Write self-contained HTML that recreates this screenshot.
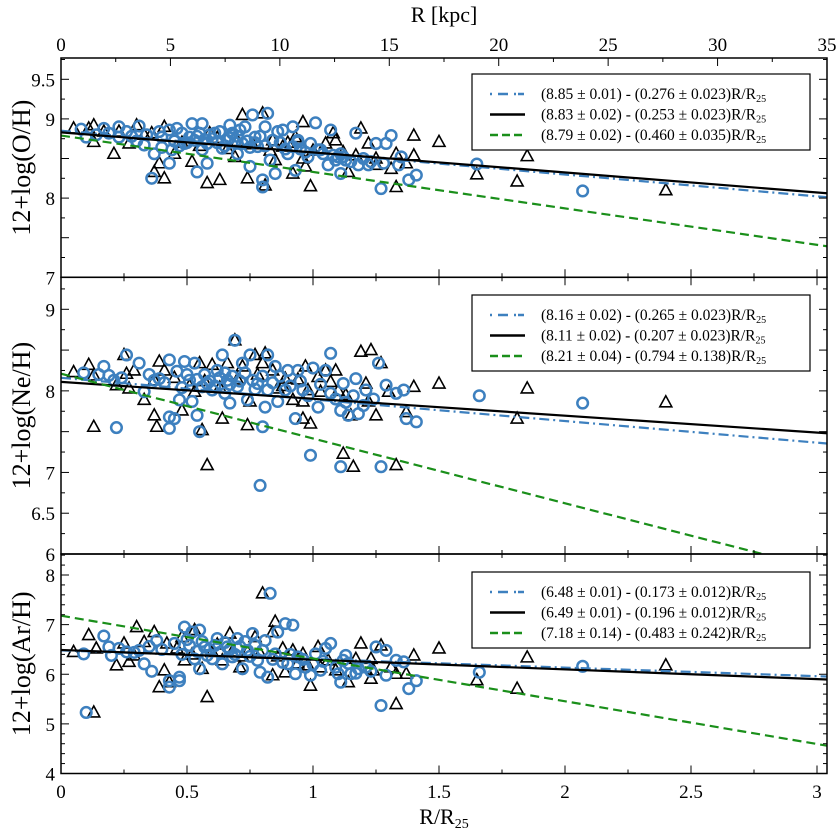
<!DOCTYPE html>
<html><head><meta charset="utf-8">
<style>
html,body{margin:0;padding:0;background:#fff;}
svg{display:block;font-family:"Liberation Serif","DejaVu Serif",serif;}
</style></head>
<body>
<svg id="chart" width="836" height="831" viewBox="0 0 836 831" xmlns="http://www.w3.org/2000/svg"></svg>
<script>
// ---------- data ----------
const xTicks = [0,0.5,1,1.5,2,2.5,3];
const xTickLabels = ["0","0.5","1","1.5","2","2.5","3"];
const kpcTicks = [0,5,10,15,20,25,30,35];
const kpcTickLabels = ["0","5","10","15","20","25","30","35"];

const ohCircles = [[.08,8.87],[.10,8.77],[.17,8.88],[.19,8.82],[.23,8.90],[.23,8.77],[.26,8.84],[.31,8.91],[.33,8.67],[.36,8.25],[.37,8.56],[.39,8.84],[.40,8.77],[.43,8.86],[.43,8.44],[.44,8.61],[.46,8.88],[.48,8.82],[.49,8.69],[.51,8.77],[.52,8.94],[.53,8.73],[.54,8.33],[.55,8.82],[.56,8.94],[.56,8.61],[.58,8.69],[.58,8.44],[.60,8.75],[.61,8.82],[.63,8.84],[.64,8.63],[.66,8.73],[.67,8.92],[.68,8.82],[.70,8.56],[.71,8.86],[.72,8.69],[.73,8.90],[.75,8.40],[.76,9.05],[.77,8.77],[.78,8.65],[.80,8.23],[.80,8.14],[.81,8.90],[.82,9.07],[.83,8.48],[.84,8.73],[.85,8.31],[.86,8.84],[.88,8.86],[.90,8.56],[.92,8.90],[.92,8.65],[.93,8.35],[.94,8.71],[.94,8.73],[.98,8.52],[.99,8.69],[1.01,8.95],[1.02,8.61],[1.03,8.61],[1.06,8.42],[1.07,8.86],[1.08,8.54],[1.10,8.52],[1.11,8.31],[1.11,8.56],[1.13,8.48],[1.17,8.82],[1.18,8.42],[1.22,8.42],[1.25,8.69],[1.27,8.12],[1.29,8.69],[1.31,8.79],[1.34,8.42],[1.35,8.52],[1.38,8.23],[1.41,8.29],[1.65,8.43],[2.07,8.09],
[.14,8.80],[.28,8.78],[.34,8.80],[.45,8.72],[.47,8.66],[.50,8.70],[.54,8.78],[.57,8.74],[.59,8.80],[.62,8.70],[.65,8.66],[.67,8.76],[.69,8.70],[.70,8.78],[.74,8.72],[.75,8.64],[.77,8.70],[.79,8.78],[.81,8.66],[.87,8.70],[.89,8.62],[.95,8.62],[.97,8.58],[1.04,8.56],[1.09,8.48],[1.12,8.52],[1.15,8.46],[1.20,8.50],[1.23,8.46],[1.28,8.44],[.30,8.72],[.40,8.64]];
const ohTriangles = [[.05,8.88],[.11,8.88],[.13,8.71],[.13,8.92],[.21,8.56],[.23,8.84],[.27,8.69],[.30,8.92],[.36,8.82],[.37,8.33],[.39,8.44],[.41,8.25],[.41,8.90],[.45,8.56],[.52,8.46],[.58,8.19],[.59,8.82],[.63,8.23],[.69,8.52],[.72,9.05],[.74,8.25],[.80,9.07],[.81,8.16],[.84,8.73],[.85,8.48],[.88,8.65],[.92,8.31],[.93,8.77],[.96,8.50],[.96,8.96],[.97,8.40],[.99,8.15],[1.05,8.69],[1.08,8.82],[1.09,8.73],[1.14,8.33],[1.17,8.54],[1.19,8.88],[1.22,8.69],[1.25,8.50],[1.25,8.42],[1.31,8.37],[1.33,8.56],[1.33,8.14],[1.37,8.44],[1.40,8.54],[1.40,8.79],[1.50,8.71],[1.65,8.30],[1.81,8.21],[1.85,8.53],[2.40,8.10],
[.17,8.84],[.33,8.80],[.48,8.70],[.55,8.66],[.62,8.76],[.66,8.62],[.70,8.72],[.76,8.68],[.83,8.60],[.90,8.70],[1.00,8.60],[1.12,8.58]];

const neCircles = [[.09,8.22],[.17,8.30],[.19,8.19],[.21,8.13],[.22,7.55],[.26,8.44],[.31,8.34],[.33,7.99],[.37,8.13],[.39,8.15],[.43,8.38],[.43,7.54],[.43,7.68],[.45,7.66],[.47,7.89],[.49,8.36],[.51,8.13],[.52,7.87],[.53,8.34],[.54,7.70],[.55,7.50],[.56,8.05],[.58,8.09],[.60,8.01],[.62,8.25],[.64,8.44],[.65,7.97],[.66,8.13],[.67,7.85],[.69,8.62],[.70,8.05],[.72,8.34],[.74,7.89],[.75,8.44],[.76,8.13],[.78,8.09],[.79,6.84],[.80,7.56],[.81,7.80],[.82,8.44],[.82,8.01],[.85,8.30],[.86,7.87],[.89,8.01],[.90,8.25],[.93,7.66],[.94,8.25],[.96,8.01],[.99,7.21],[1.00,8.28],[1.02,7.80],[1.05,8.25],[1.07,8.46],[1.07,7.97],[1.11,7.07],[1.11,7.76],[1.12,8.09],[1.14,7.70],[1.17,8.15],[1.18,7.72],[1.21,8.01],[1.26,8.34],[1.27,7.07],[1.29,8.07],[1.33,7.97],[1.36,8.01],[1.37,7.66],[1.41,7.62],[1.66,7.94],[2.07,7.85],
[.15,8.20],[.24,8.16],[.35,8.20],[.41,8.10],[.46,8.24],[.48,8.04],[.50,8.20],[.54,8.14],[.57,8.20],[.59,8.12],[.61,8.06],[.63,8.16],[.65,8.22],[.67,8.08],[.68,8.18],[.71,8.12],[.73,8.22],[.77,8.02],[.80,8.18],[.84,8.10],[.87,8.18],[.91,8.06],[.95,8.12],[.98,7.94],[1.03,8.08],[1.09,7.90],[1.13,7.86],[1.16,7.94],[1.20,7.82],[1.24,7.90]];
const neTriangles = [[.05,8.23],[.11,8.32],[.13,8.19],[.13,7.56],[.22,8.07],[.25,8.44],[.26,8.21],[.27,8.03],[.29,8.25],[.33,7.89],[.37,8.13],[.37,7.70],[.38,7.56],[.39,8.36],[.41,8.25],[.48,7.76],[.53,7.99],[.55,8.34],[.56,7.52],[.58,7.09],[.60,8.32],[.64,7.66],[.66,8.34],[.69,8.62],[.72,8.30],[.74,7.58],[.75,7.87],[.77,8.44],[.80,8.34],[.81,8.46],[.84,8.25],[.86,8.03],[.89,8.15],[.92,7.89],[.96,7.87],[.96,7.66],[.97,8.30],[.98,8.01],[.99,7.60],[1.02,8.17],[1.03,7.99],[1.05,8.25],[1.07,8.11],[1.09,8.25],[1.12,7.23],[1.13,7.95],[1.15,7.70],[1.16,7.07],[1.19,8.48],[1.21,8.09],[1.23,8.50],[1.22,7.87],[1.25,7.70],[1.27,8.34],[1.30,7.99],[1.33,7.09],[1.37,7.74],[1.40,8.05],[1.50,8.09],[1.81,7.66],[1.85,8.03],[2.40,7.86],
[.45,8.16],[.51,8.06],[.57,8.12],[.63,8.04],[.70,8.14],[.78,8.20],[.88,8.06],[.94,8.14],[1.10,8.00]];

const arCircles = [[.09,6.41],[.10,5.23],[.17,6.77],[.19,6.55],[.20,6.38],[.23,6.52],[.26,6.45],[.31,6.48],[.33,6.21],[.36,6.06],[.38,6.68],[.43,5.74],[.43,5.87],[.47,5.87],[.47,5.94],[.49,6.95],[.51,6.58],[.52,6.85],[.53,6.31],[.55,6.89],[.55,6.11],[.57,6.55],[.60,6.31],[.62,6.72],[.64,6.21],[.66,6.55],[.68,6.35],[.70,6.72],[.72,6.11],[.74,6.48],[.76,6.82],[.78,6.28],[.79,6.04],[.81,6.68],[.82,5.94],[.83,7.63],[.85,6.41],[.86,6.85],[.89,7.02],[.90,6.21],[.92,6.99],[.93,6.01],[.94,6.35],[.97,6.14],[.99,5.98],[1.01,6.41],[1.03,6.08],[1.05,6.52],[1.07,6.62],[1.10,6.01],[1.11,5.84],[1.12,6.28],[1.13,6.38],[1.15,6.01],[1.18,6.11],[1.21,6.14],[1.25,6.55],[1.27,5.37],[1.29,5.98],[1.29,6.48],[1.33,6.28],[1.36,6.25],[1.38,5.71],[1.41,5.87],[1.66,6.04],[2.07,6.16],
[.29,6.44],[.40,6.50],[.45,6.62],[.48,6.40],[.50,6.70],[.54,6.46],[.56,6.66],[.58,6.38],[.61,6.58],[.63,6.44],[.65,6.64],[.67,6.50],[.69,6.40],[.71,6.56],[.73,6.66],[.75,6.36],[.77,6.58],[.80,6.48],[.84,6.30],[.88,6.24],[.91,6.40],[.96,6.30],[1.00,6.20],[1.04,6.26],[1.09,6.14],[1.14,6.22],[1.17,6.02],[1.23,6.06],[.35,6.56],[.59,6.50]];
const arTriangles = [[.05,6.45],[.11,6.79],[.13,5.23],[.14,6.52],[.22,6.18],[.25,6.62],[.27,6.25],[.29,6.38],[.30,6.95],[.33,6.65],[.37,6.85],[.39,5.74],[.41,6.08],[.42,6.62],[.43,5.84],[.48,6.75],[.49,6.28],[.53,6.89],[.56,6.11],[.58,5.54],[.60,6.45],[.64,6.28],[.67,6.82],[.71,6.14],[.74,6.45],[.77,6.75],[.80,7.63],[.84,5.98],[.84,6.85],[.85,7.06],[.88,6.52],[.89,6.04],[.92,6.48],[.96,6.41],[.98,6.18],[.99,5.77],[1.02,6.55],[1.03,6.14],[1.06,6.28],[1.09,6.08],[1.14,5.84],[1.17,6.31],[1.19,6.62],[1.23,6.31],[1.23,5.91],[1.24,6.08],[1.27,6.58],[1.31,6.14],[1.33,6.01],[1.33,5.40],[1.37,6.01],[1.40,6.38],[1.50,6.52],[1.65,5.88],[1.81,5.71],[1.85,6.34],[2.40,6.18],
[.46,6.52],[.52,6.40],[.62,6.60],[.68,6.46],[.72,6.36],[.79,6.42],[.86,6.36],[.94,6.22]];

// fits as drawn: [intercept, slope]
const ohFits = [[8.85,0.276],[8.83,0.253],[8.79,0.460]];
const neFits = [[8.16,0.265],[8.11,0.207],[8.21,0.794]];
const arFits = [[6.48,0.173],[6.49,0.196],[7.18,0.862]];
const ohLegend = ["(8.85 ± 0.01) - (0.276 ± 0.023)R/R","(8.83 ± 0.02) - (0.253 ± 0.023)R/R","(8.79 ± 0.02) - (0.460 ± 0.035)R/R"];
const neLegend = ["(8.16 ± 0.02) - (0.265 ± 0.023)R/R","(8.11 ± 0.02) - (0.207 ± 0.023)R/R","(8.21 ± 0.04) - (0.794 ± 0.138)R/R"];
const arLegend = ["(6.48 ± 0.01) - (0.173 ± 0.012)R/R","(6.49 ± 0.01) - (0.196 ± 0.012)R/R","(7.18 ± 0.14) - (0.483 ± 0.242)R/R"];
const ohYTicks = [9.5,9,8,7];
const neYTicks = [9,8,7,6.5,6];
const arYTicks = [8,7,6,5,4];

// ---------- geometry ----------
const svg = document.getElementById('chart');
const NS = 'http://www.w3.org/2000/svg';
const X0 = 61, X1 = 827, XMAX = (827-61)/252;
const KPC_MAX = 35;
function xs(r){ return X0 + r*252; }
function xk(k){ return X0 + k/KPC_MAX*(X1-X0); }
const BLUE = '#3d80bf', GREEN = '#1a8f1a';
function mk(tag, attrs, parent){
  const e = document.createElementNS(NS, tag);
  for (const k in attrs) e.setAttribute(k, attrs[k]);
  (parent||svg).appendChild(e);
  return e;
}

const panels = [
  {name:'oh', top:58, bot:277.3, vTop:9.5, yTop:79.3, vBot:7, circles:ohCircles, tris:ohTriangles, fits:ohFits, legend:ohLegend, ticks:ohYTicks, minor:0.25, label:'12+log(O/H)', legY:74},
  {name:'ne', top:277.3, bot:554, vTop:9, yTop:309.3, vBot:6, circles:neCircles, tris:neTriangles, fits:neFits, legend:neLegend, ticks:neYTicks, minor:0.25, label:'12+log(Ne/H)', legY:295},
  {name:'ar', top:554, bot:773.5, vTop:8, yTop:575, vBot:4, circles:arCircles, tris:arTriangles, fits:arFits, legend:arLegend, ticks:arYTicks, minor:0.2, label:'12+log(Ar/H)', legY:572}
];

panels.forEach(p => {
  const scale = (p.bot - p.yTop)/(p.vTop - p.vBot);
  const ys = v => p.yTop + (p.vTop - v)*scale;
  const vMaxVis = p.vTop + (p.yTop - p.top)/scale;
  const g = mk('g', {});
  
  
  const clipId = 'clip-' + p.name;
  const cp = mk('clipPath', {id: clipId}, g);
  mk('rect', {x:X0, y:p.top, width:X1-X0, height:p.bot-p.top}, cp);
  const plot = mk('g', {'clip-path':'url(#'+clipId+')'}, g);

  p.tris.forEach(d => {
    const cx = xs(d[0]), cy = ys(d[1]);
    const t = mk('polygon', {points:`${cx},${cy-6.5} ${cx-6},${cy+4.5} ${cx+6},${cy+4.5}`, fill:'none', stroke:'#000', 'stroke-width':1.6}, plot);
    
    
  });
  p.circles.forEach(d => {
    const c = mk('circle', {cx:xs(d[0]), cy:ys(d[1]), r:5.3, fill:'none', stroke:BLUE, 'stroke-width':2.5}, plot);
    
    
  });
  const styles = [
    {stroke:BLUE, dash:'10,4,2,4', w:2.2, n:'blue-fit-line'},
    {stroke:'#000', dash:'', w:2.2, n:'black-fit-line'},
    {stroke:GREEN, dash:'9,5', w:2.2, n:'green-fit-line'}
  ];
  p.fits.forEach((f,i) => {
    const s = styles[i];
    const l = mk('line', {x1:xs(0), y1:ys(f[0]), x2:xs(XMAX), y2:ys(f[0]-f[1]*XMAX), stroke:s.stroke, 'stroke-width':s.w}, plot);
    if (s.dash) l.setAttribute('stroke-dasharray', s.dash);
    
    
  });

  const fr = mk('rect', {x:X0, y:p.top, width:X1-X0, height:p.bot-p.top, fill:'none', stroke:'#000', 'stroke-width':1.5}, g);
  
  

  const vStart = Math.ceil(p.vBot/p.minor - 1e-6)*p.minor;
  for (let v = vStart; v <= vMaxVis + 1e-6; v += p.minor) {
    const vv = Math.round(v*100)/100;
    const major = p.minor===0.2 ? Math.abs(vv-Math.round(vv))<1e-6 : Math.abs(vv*2-Math.round(vv*2))<1e-6;
    const len = major ? 8 : 4;
    const y = ys(vv);
    mk('line', {x1:X0, y1:y, x2:X0+len, y2:y, stroke:'#000', 'stroke-width':1}, g);
    mk('line', {x1:X1, y1:y, x2:X1-len, y2:y, stroke:'#000', 'stroke-width':1}, g);
  }
  p.ticks.forEach(v => {
    const t = mk('text', {x:X0-6, y:ys(v)+7, 'text-anchor':'end', 'font-size':19}, g);
    t.textContent = String(v);
    
    
  });
  for (let r = 0; r <= XMAX + 1e-6; r += 0.25) {
    const major = Math.abs(r*2 - Math.round(r*2)) < 1e-6;
    const len = major ? 8 : 4;
    const x = xs(r);
    mk('line', {x1:x, y1:p.bot, x2:x, y2:p.bot-len, stroke:'#000', 'stroke-width':1}, g);
    if (p.name !== 'oh') mk('line', {x1:x, y1:p.top, x2:x, y2:p.top+len, stroke:'#000', 'stroke-width':1}, g);
  }
  const yt = mk('text', {x:0, y:0, 'text-anchor':'middle', 'font-size':26, transform:`translate(30,${(p.top+p.bot)/2}) rotate(-90)`}, g);
  yt.textContent = p.label;
  
  

  const lg = mk('g', {}, g);
  
  
  mk('rect', {x:472, y:p.legY, width:338, height:76, fill:'#fff', stroke:'#000', 'stroke-width':1.2}, lg);
  p.legend.forEach((txt,i) => {
    const s = styles[i];
    const ly = p.legY + 20 + i*20.5;
    const l = mk('line', {x1:490, y1:ly, x2:525, y2:ly, stroke:s.stroke, 'stroke-width':2.4}, lg);
    if (s.dash) l.setAttribute('stroke-dasharray', i===0 ? '2,6,10,6,2' : '8,4');
    const t = mk('text', {x:541, y:ly+5, 'font-size':15.5}, lg);
    t.textContent = txt;
    const sub = mk('tspan', {'font-size':10, dy:3}, t);
    sub.textContent = '25';
    
    
  });
});

xTicks.forEach((r,i) => {
  const t = mk('text', {x:xs(r), y:798, 'text-anchor':'middle', 'font-size':19});
  t.textContent = xTickLabels[i];
  
  
});
const xt = mk('text', {x:444, y:824, 'text-anchor':'middle', 'font-size':22});
xt.textContent = 'R/R';
const xsub = mk('tspan', {'font-size':14, dy:4}, xt);
xsub.textContent = '25';



for (let k = 0; k <= KPC_MAX + 1e-6; k += 2.5) {
  const major = Math.abs(k/5 - Math.round(k/5)) < 1e-6;
  mk('line', {x1:xk(k), y1:58, x2:xk(k), y2:58 + (major?8:4), stroke:'#000', 'stroke-width':1});
}
kpcTicks.forEach((k,i) => {
  const t = mk('text', {x:xk(k), y:51, 'text-anchor':'middle', 'font-size':19});
  t.textContent = kpcTickLabels[i];
  
  
});
const tt = mk('text', {x:444, y:22, 'text-anchor':'middle', 'font-size':22});
tt.textContent = 'R [kpc]';


</script>
</body></html>
